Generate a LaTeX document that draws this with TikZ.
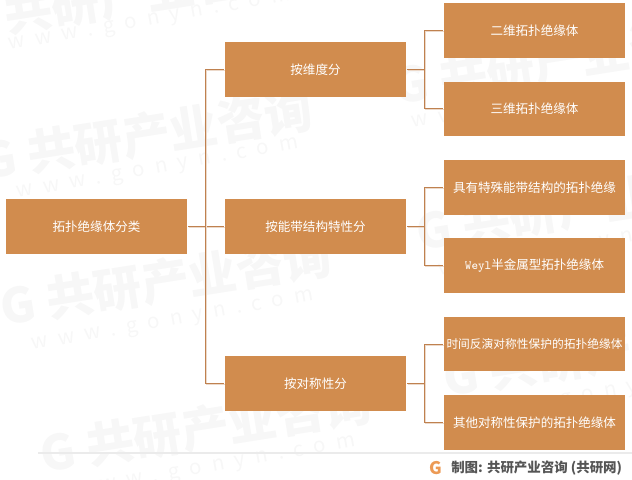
\documentclass[tikz,border=0pt]{standalone}
\usepackage{fontspec}
\setmainfont{Noto Sans CJK SC}
\newfontfamily\sitefont[LetterSpace=50]{Noto Sans CJK SC}
\usetikzlibrary{positioning,calc}
\definecolor{boxfill}{HTML}{D18C4E}
\definecolor{linkcol}{HTML}{BF814F}
\definecolor{markcol}{HTML}{F7F7F7}
\definecolor{footcol}{HTML}{555555}
\definecolor{logocol}{HTML}{EC9A55}
\tikzset{
    catbox/.style={rectangle,fill=boxfill,text=white,minimum width=135.75pt,minimum height=41pt,inner sep=0pt,outer sep=0pt,font=\fontsize{9.4pt}{11pt}\selectfont},
    link/.style={-,draw=linkcol,line width=0.8pt,shorten <=0.75pt,shorten >=0.75pt,
        preaction={draw=linkcol!30,transform canvas={xshift=0.5pt,yshift=-0.5pt}}},
    brand/.style={text=markcol,font=\bfseries\fontsize{36pt}{38pt}\selectfont,rotate=9},
    site/.style={text=markcol,font=\sitefont\fontsize{15.5pt}{17pt}\selectfont,rotate=10}
}
\begin{document}
\begin{tikzpicture}[x=0.75pt,y=-0.75pt,node distance=17.8pt and 28.5pt]
    \useasboundingbox (0,0) rectangle (632,479);

    % watermark
    \node[brand] (brand 1) at (124,-4)  {G 共研产业咨询};
    \node[brand] (brand 2) at (147,135) {G 共研产业咨询};
    \node[brand] (brand 3) at (166,281) {G 共研产业咨询};
    \node[brand] (brand 4) at (206,428) {G 共研产业咨询};
    \node[brand] (brand 5) at (559,60)  {G 共研产业咨询};
    \node[brand] (brand 6) at (582,206) {G 共研产业咨询};
    \node[brand] (brand 7) at (609,352) {G 共研产业咨询};
    \node[site]  (site 1)  at (150,22)  {www.gonyn.com};
    \node[site]  (site 2)  at (158,170) {www.gonyn.com};
    \node[site]  (site 3)  at (173,322) {www.gonyn.com};
    \node[site]  (site 4)  at (215,468) {www.gonyn.com};
    \node[site]  (site 5)  at (553,100) {www.gonyn.com};
    \node[site]  (site 6)  at (580,248) {www.gonyn.com};
    \node[site]  (site 7)  at (607,394) {www.gonyn.com};

    % third column
    \node[catbox] (leaf 1) at (534.5,30.5) {二维拓扑绝缘体};
    \node[catbox] (leaf 2) [below=of leaf 1] {三维拓扑绝缘体};
    \node[catbox] (leaf 3) [below=of leaf 2] {具有特殊能带结构的拓扑绝缘};
    \node[catbox] (leaf 4) [below=of leaf 3] {\texttt{Weyl}半金属型拓扑绝缘体};
    \node[catbox] (leaf 5) [below=of leaf 4] {\fontsize{8.8pt}{11pt}\selectfont 时间反演对称性保护的拓扑绝缘体};
    \node[catbox] (leaf 6) [below=of leaf 5] {其他对称性保护的拓扑绝缘体};

    % second column
    \node[catbox] (dim)  [left=of $(leaf 1.west)!.5!(leaf 2.west)$] {按维度分};
    \node[catbox] (band) [left=of $(leaf 3.west)!.5!(leaf 4.west)$] {按能带结构特性分};
    \node[catbox] (sym)  [left=of $(leaf 5.west)!.5!(leaf 6.west)$] {按对称性分};

    % first column
    \node[catbox] (root) [left=of band] {拓扑绝缘体分类};

    \draw[link] (root) -- (band);
    \draw[link] (root.east) -- ++(18.5,0) |- (dim.west);
    \draw[link] (root.east) -- ++(18.5,0) |- (sym.west);

    \foreach \group/\first/\second in {dim/leaf 1/leaf 2,band/leaf 3/leaf 4,sym/leaf 5/leaf 6}{
        \draw[link] (\group.east) -- ++(18.5,0) |- (\first.west);
        \draw[link] (\group.east) -- ++(18.5,0) |- (\second.west);
    }

    % footer
    \coordinate (foot left) at (38,453);
    \coordinate (foot right) at (632,453);
    \draw[draw=black!8,line width=0.8pt] (foot left) -- (foot right);
    \node[text=logocol,inner sep=0pt,font=\bfseries\fontsize{13pt}{13pt}\selectfont] (logo) at (436,468) {G};
    \node[text=footcol,font=\bfseries\fontsize{10.1pt}{12pt}\selectfont,anchor=west,inner sep=0pt] (source) at (451,468) {制图: 共研产业咨询 (共研网)};
\end{tikzpicture}
\end{document}
